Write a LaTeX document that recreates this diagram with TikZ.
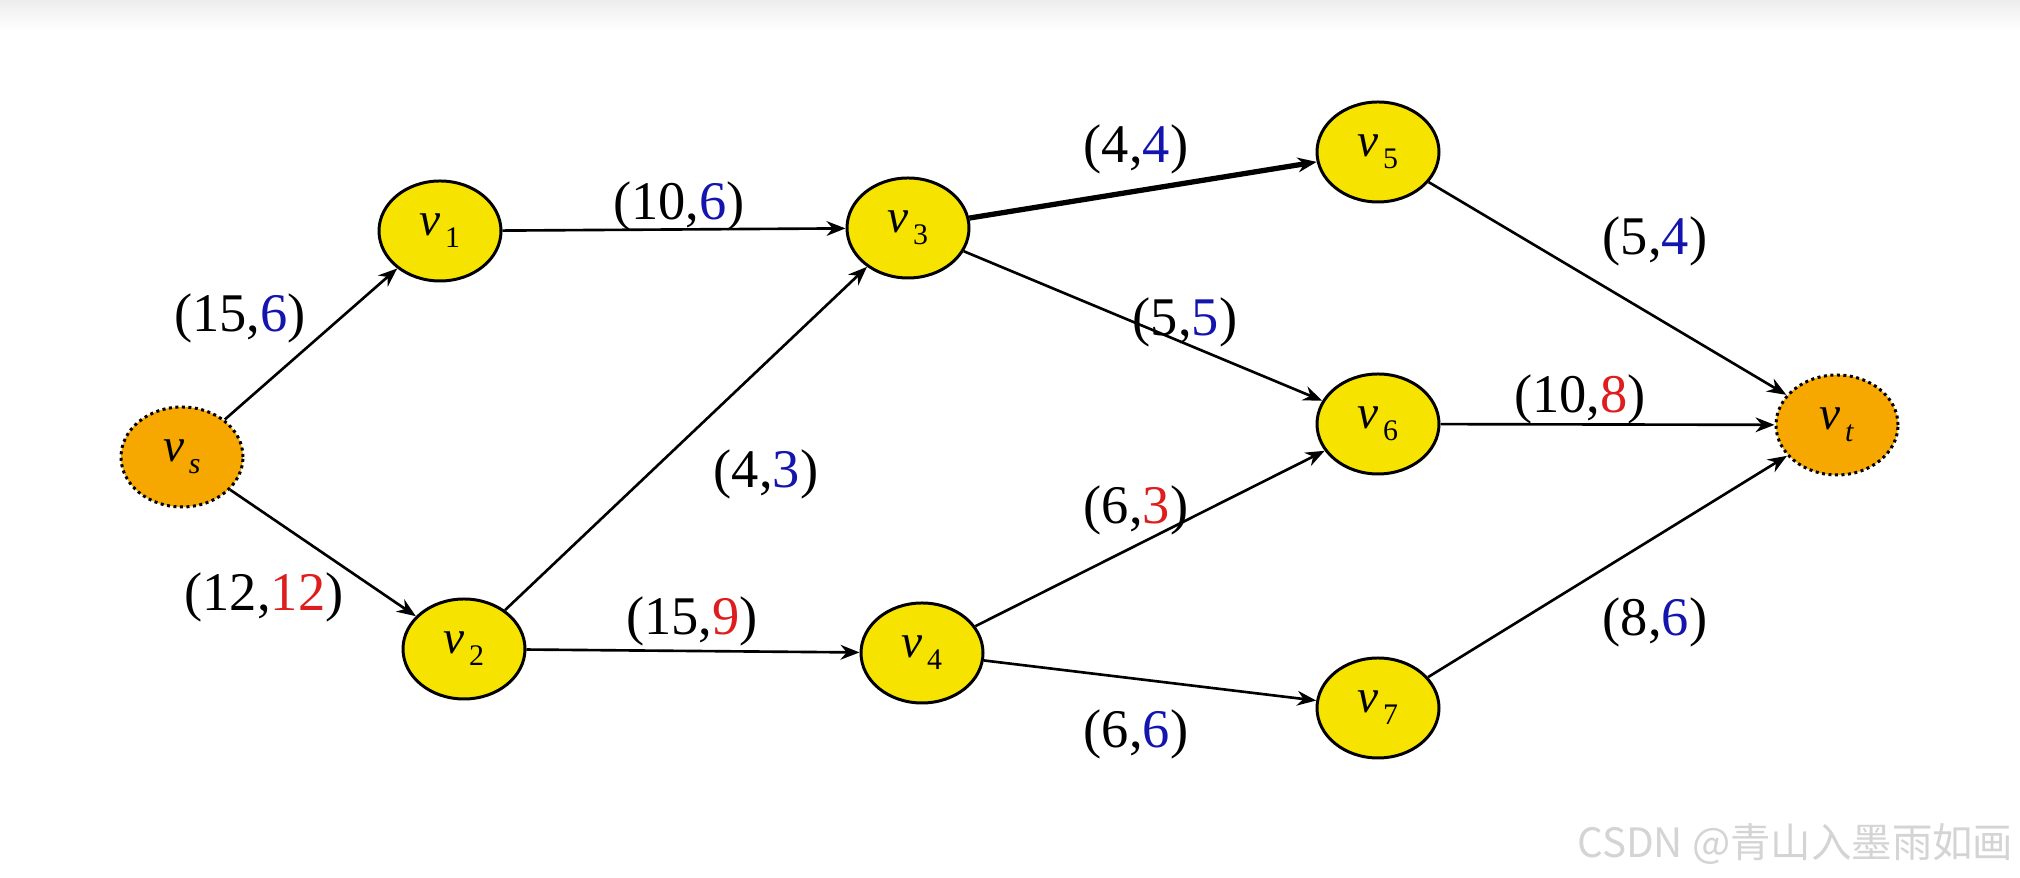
\documentclass[tikz,border=0pt]{standalone}
\usepackage{fontspec}
\setmainfont{Liberation Serif}
\newfontfamily\cjkfont{Noto Sans CJK SC}
\usetikzlibrary{shapes.geometric}
\usetikzlibrary{arrows,arrows.meta}
\definecolor{knoten}{RGB}{246,228,0}
\definecolor{quelle}{RGB}{246,168,0}
\definecolor{flussblau}{RGB}{20,20,175}
\definecolor{flussrot}{RGB}{222,30,30}
\definecolor{wasser}{RGB}{212,212,212}
% vertex name: italic v with a lowered index
\newcommand{\vn}[1]{\textit{v}\kern1.2pt\raisebox{-0.55ex}{\fontsize{8.5}{9}\selectfont #1}}
\newcommand{\fl}[3]{(#1,\textcolor{#2}{#3})}

\begin{document}
\begin{tikzpicture}[>={Stealth[length=5.4pt,width=4.2pt]},
    vertex/.style={ellipse, draw=black, line width=0.85pt, fill=knoten, minimum width=1.22cm, minimum height=1.0cm, inner sep=0pt, font=\fontsize{13.5}{15}\selectfont},
    terminal/.style={vertex, fill=quelle, densely dotted},
    flow/.style={->, line width=0.75pt},
    caplabel/.style={font=\fontsize{15.5}{17}\selectfont}]

	\useasboundingbox (0,0) rectangle (20.2,8.78);
	\fill[white] (0,0) rectangle (20.2,8.78);
	\shade[top color=black!7, bottom color=white] (0,8.48) rectangle (20.2,8.78);

	% vertices
	\node[terminal] (vs) at (1.82,4.21) {\vn{\textit{s}}};
	\node[vertex] (v1) at (4.40,6.47) {\vn{1}};
	\node[vertex] (v2) at (4.64,2.29) {\vn{2}};
	\node[vertex] (v3) at (9.08,6.50) {\vn{3}};
	\node[vertex] (v4) at (9.22,2.25) {\vn{4}};
	\node[vertex] (v5) at (13.78,7.26) {\vn{5}};
	\node[vertex] (v6) at (13.78,4.54) {\vn{6}};
	\node[vertex] (v7) at (13.78,1.70) {\vn{7}};
	\node[terminal] (vt) at (18.37,4.53) {\vn{\textit{t}}};

	% arcs
	\draw[flow] (vs) -- (v1);
	\draw[flow] (vs) -- (v2);
	\draw[flow] (v1) -- (v3);
	\draw[flow] (v2) -- (v3);
	\draw[flow] (v2) -- (v4);
	\draw[flow, line width=1.5pt] (v3) -- (v5);
	\draw[flow] (v3) -- (v6);
	\draw[flow] (v4) -- (v6);
	\draw[flow] (v4) -- (v7);
	\draw[flow] (v5) -- (vt);
	\draw[flow] (v6) -- (vt);
	\draw[flow] (v7) -- (vt);

	% capacity, flow
	\node[caplabel] (c-s1) at (2.40,5.60) {\fl{15}{flussblau}{6}};
	\node[caplabel] (c-s2) at (2.64,2.81) {\fl{12}{flussrot}{12}};
	\node[caplabel] (c-13) at (6.79,6.72) {\fl{10}{flussblau}{6}};
	\node[caplabel] (c-23) at (7.66,4.04) {\fl{4}{flussblau}{3}};
	\node[caplabel] (c-24) at (6.92,2.57) {\fl{15}{flussrot}{9}};
	\node[caplabel] (c-35) at (11.36,7.29) {\fl{4}{flussblau}{4}};
	\node[caplabel] (c-36) at (11.85,5.56) {\fl{5}{flussblau}{5}};
	\node[caplabel] (c-46) at (11.36,3.68) {\fl{6}{flussrot}{3}};
	\node[caplabel] (c-47) at (11.36,1.44) {\fl{6}{flussblau}{6}};
	\node[caplabel] (c-5t) at (16.55,6.37) {\fl{5}{flussblau}{4}};
	\node[caplabel] (c-6t) at (15.80,4.79) {\fl{10}{flussrot}{8}};
	\node[caplabel] (c-7t) at (16.55,2.56) {\fl{8}{flussblau}{6}};

	\node[wasser, anchor=east, inner sep=0pt, font=\cjkfont\fontsize{11.5}{13}\selectfont] (mark) at (20.14,0.34) {CSDN @青山入墨雨如画};

\end{tikzpicture}
\end{document}
